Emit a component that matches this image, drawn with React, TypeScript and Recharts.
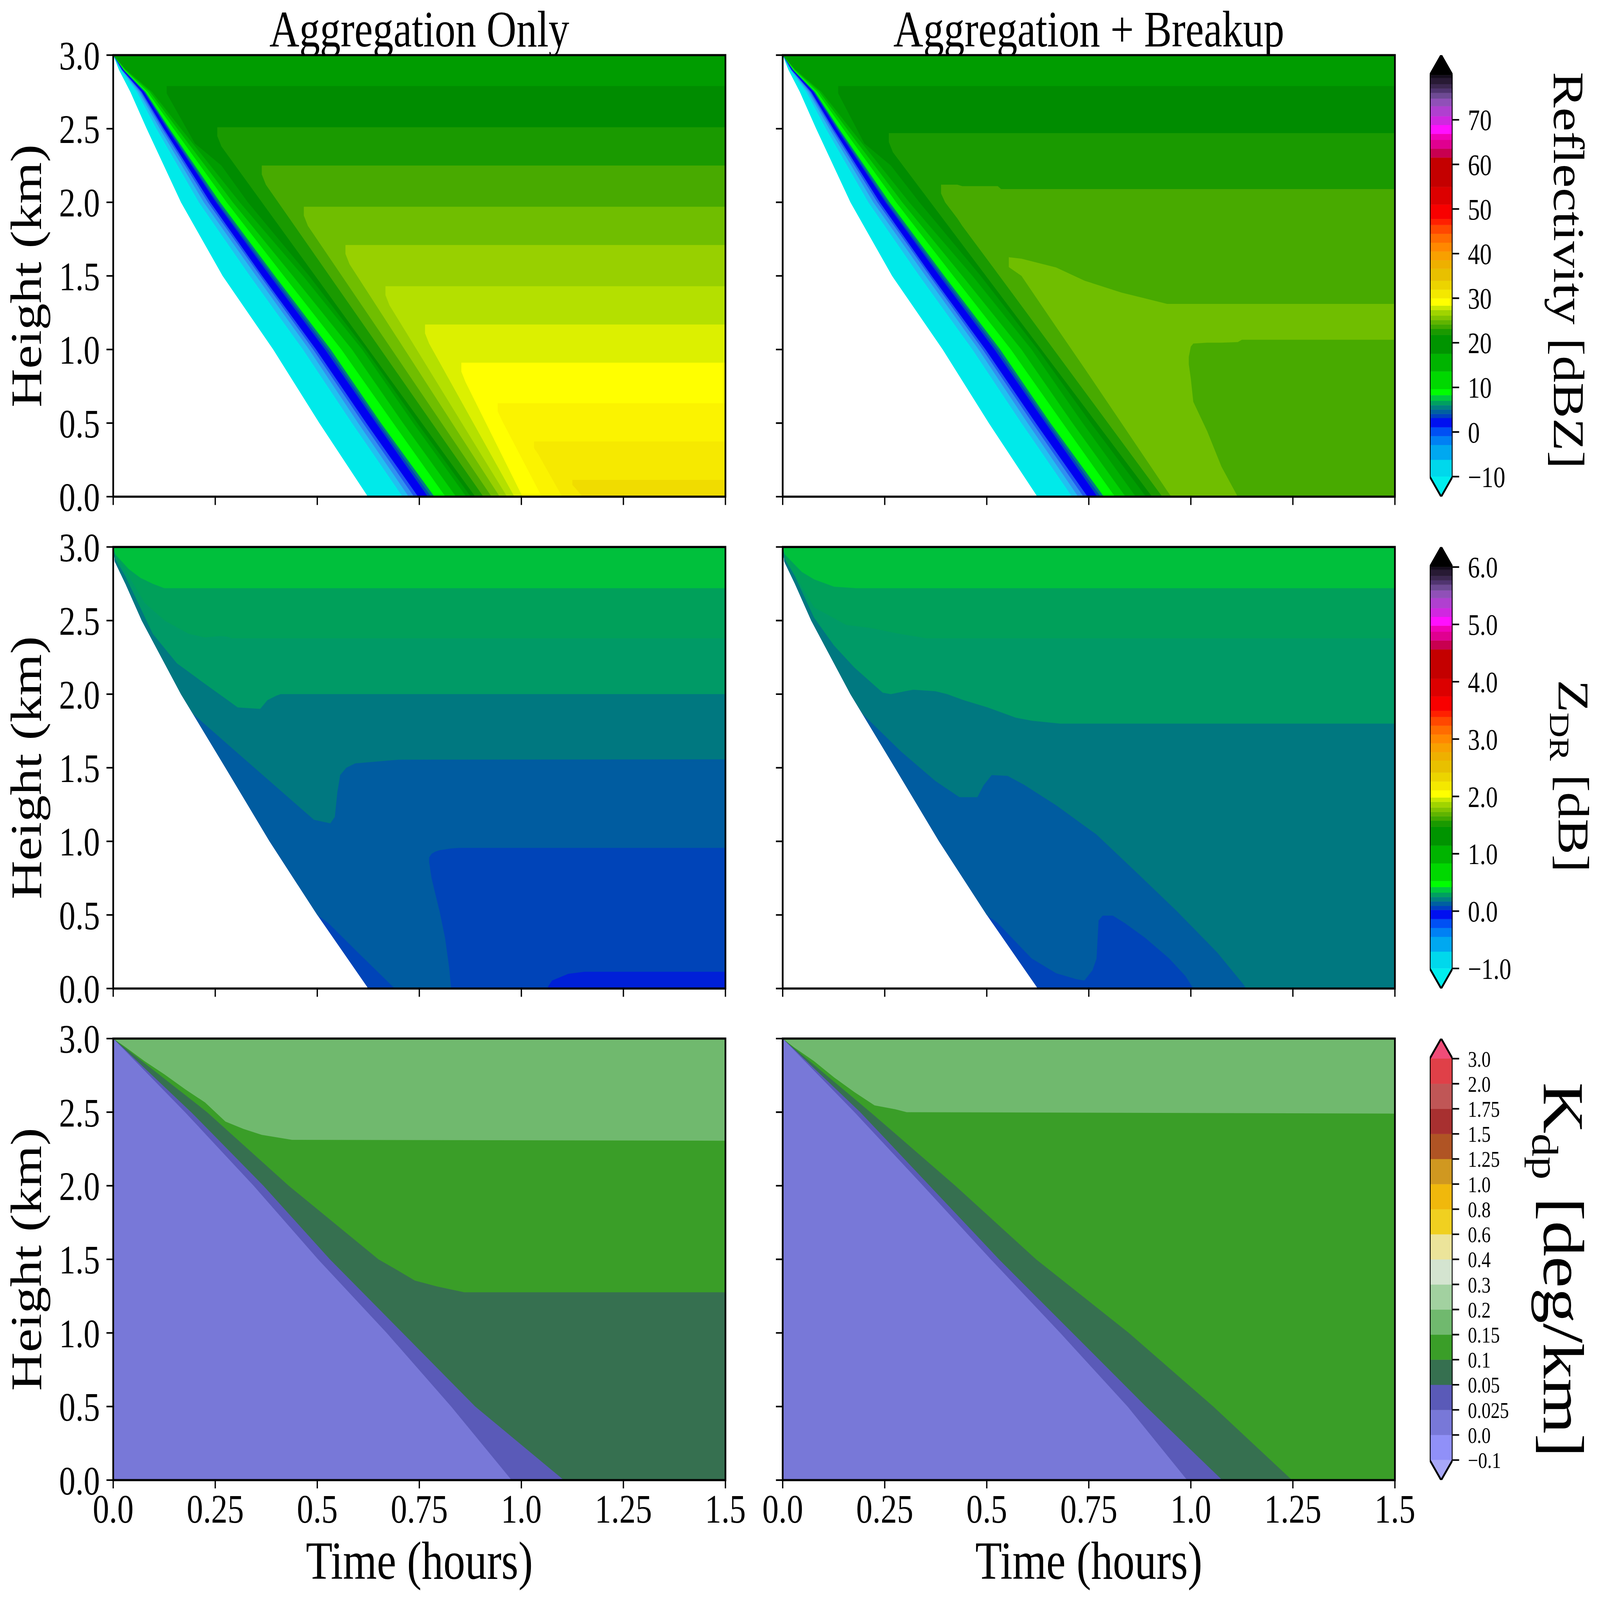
import React from 'react';
import { ComposedChart, Area, Line, XAxis, YAxis } from 'recharts';

const FONT = '"Liberation Serif", "DejaVu Serif", serif';

// ---- axes ----
const TIME_TICKS = [0, 0.25, 0.5, 0.75, 1.0, 1.25, 1.5];
const TIME_LABELS = ['0.0', '0.25', '0.5', '0.75', '1.0', '1.25', '1.5'];
const HEIGHT_TICKS = [0, 0.5, 1, 1.5, 2, 2.5, 3];

// ---- reflectivity (dBZ) ----
// heights (km) at which the contours along the falling front were read
const FRONT_HEIGHTS = [3, 2.9, 2.75, 2.5, 2.0, 1.5, 1.0, 0.5, 0, 0];
// time (h) of each front-side contour at FRONT_HEIGHTS, region above it is >= level
const Z_FRONT_TIMES: [number, number[]][] = [
  [-10, [0, 0.014, 0.042, 0.082, 0.166, 0.268, 0.392, 0.505, 0.624, 1.5]],
  [-7, [0, 0.019, 0.058, 0.106, 0.21, 0.335, 0.465, 0.585, 0.709, 1.5]],
  [-5, [0, 0.02, 0.063, 0.114, 0.222, 0.35, 0.48, 0.6, 0.724, 1.5]],
  [-3, [0, 0.021, 0.067, 0.12, 0.232, 0.36, 0.49, 0.612, 0.737, 1.5]],
  [0, [0, 0.022, 0.07, 0.124, 0.238, 0.365, 0.497, 0.62, 0.747, 1.5]],
  [4, [0, 0.024, 0.075, 0.132, 0.252, 0.384, 0.519, 0.644, 0.771, 1.5]],
  [6, [0, 0.025, 0.077, 0.135, 0.256, 0.39, 0.526, 0.65, 0.779, 1.5]],
  [10, [0, 0.026, 0.079, 0.138, 0.262, 0.396, 0.533, 0.656, 0.787, 1.5]],
  [14, [0, 0.028, 0.084, 0.148, 0.278, 0.418, 0.559, 0.686, 0.814, 1.5]],
  [16, [0, 0.03, 0.09, 0.157, 0.293, 0.44, 0.585, 0.71, 0.84, 1.5]],
  [19, [0, 0.032, 0.095, 0.166, 0.31, 0.465, 0.61, 0.735, 0.865, 1.5]],
];

type Row = [number, number, number]; // [time h, lower km, upper km]
type Region = [number, Row[]]; // [level, outline rows]

const Z_AGG_REGIONS: Region[] = [
  [20, [[0.131, 2.74, 2.79], [0.2, 2.4, 2.79], [0.265, 2.25, 2.79], [0.33, 2.0, 2.79], [0.48, 1.5, 2.79], [0.618, 1.0, 2.79], [0.745, 0.5, 2.79], [0.876, 0, 2.79], [1.5, 0, 2.79]]],
  [22, [[0.255, 2.45, 2.51], [0.265, 2.38, 2.51], [0.887, 0, 2.51], [1.5, 0, 2.51]]],
  [23, [[0.364, 2.19, 2.25], [0.374, 2.12, 2.25], [0.907, 0, 2.25], [1.5, 0, 2.25]]],
  [24, [[0.467, 1.91, 1.97], [0.477, 1.84, 1.97], [0.927, 0, 1.97], [1.5, 0, 1.97]]],
  [26, [[0.569, 1.65, 1.71], [0.579, 1.58, 1.71], [0.947, 0, 1.71], [1.5, 0, 1.71]]],
  [27, [[0.667, 1.37, 1.43], [0.677, 1.3, 1.43], [0.965, 0, 1.43], [1.5, 0, 1.43]]],
  [28, [[0.764, 1.11, 1.17], [0.774, 1.04, 1.17], [0.983, 0, 1.17], [1.5, 0, 1.17]]],
  [30, [[0.853, 0.85, 0.91], [0.863, 0.78, 0.91], [1.003, 0, 0.91], [1.5, 0, 0.91]]],
  [31, [[0.942, 0.58, 0.635], [0.952, 0.52, 0.635], [1.05, 0, 0.635], [1.5, 0, 0.635]]],
  [32, [[1.031, 0.33, 0.375], [1.041, 0.29, 0.375], [1.1, 0, 0.375], [1.5, 0, 0.375]]],
  [33, [[1.125, 0.08, 0.114], [1.135, 0.05, 0.114], [1.15, 0, 0.114], [1.5, 0, 0.114]]],
];

const Z_BRK_REGIONS: Region[] = [
  [20, [[0.136, 2.74, 2.79], [0.2, 2.4, 2.79], [0.265, 2.25, 2.79], [0.335, 2.0, 2.79], [0.485, 1.5, 2.79], [0.625, 1.0, 2.79], [0.755, 0.5, 2.79], [0.89, 0, 2.79], [1.5, 0, 2.79]]],
  [22, [[0.26, 2.41, 2.47], [0.27, 2.34, 2.47], [0.905, 0, 2.47], [1.5, 0, 2.47]]],
  [23, [[0.388, 2.06, 2.12], [0.398, 2.0, 2.12], [0.428, 1.89, 2.12], [0.44, 1.84, 2.11], [0.527, 1.515, 2.11], [0.535, 1.485, 2.09], [0.93, 0, 2.09], [1.5, 0, 2.09]]],
  [24, [[0.554, 1.56, 1.627], [0.585, 1.5, 1.617], [0.67, 1.153, 1.557], [0.74, 0.87, 1.467], [0.83, 0.5, 1.387], [0.942, 0.04, 1.31], [0.952, 0, 1.31], [1.5, 0, 1.31]]],
  [23, [[0.995, 0.9, 0.95], [1.0, 0.8, 1.02], [1.006, 0.645, 1.04], [1.04, 0.445, 1.046], [1.075, 0.204, 1.046], [1.115, 0, 1.05], [1.125, 0, 1.066], [1.5, 0, 1.066]]],
];

// ---- differential reflectivity (dB) ----
const ZDR_AGG_REGIONS: Region[] = [
  [0.1, [[0, 3, 3], [0.004, 2.9, 3], [0.03, 2.75, 3], [0.07, 2.5, 3], [0.166, 2.0, 3], [0.275, 1.5, 3], [0.383, 1.0, 3], [0.5, 0.5, 3], [0.625, 0, 3], [1.5, 0, 3]]],
  [0.2, [[0, 3, 3], [0.004, 2.9, 3], [0.03, 2.75, 3], [0.07, 2.5, 3], [0.166, 2.0, 3], [0.275, 1.5, 3], [0.383, 1.0, 3], [0.5, 0.5, 3], [0.527, 0.445, 3], [0.6, 0.244, 3], [0.69, 0, 3], [1.5, 0, 3]]],
  [0.1, [[0.774, 0.86, 0.89], [0.78, 0.75, 0.915], [0.789, 0.645, 0.93], [0.8, 0.52, 0.94], [0.813, 0.345, 0.945], [0.823, 0.144, 0.95], [0.828, 0, 0.952], [0.848, 0, 0.956], [1.5, 0, 0.956]]],
  [0.05, [[1.065, 0, 0.01], [1.075, 0, 0.054], [1.115, 0, 0.1], [1.154, 0, 0.114], [1.5, 0, 0.114]]],
  [0.3, [[0, 3, 3], [0.004, 2.9, 3], [0.03, 2.75, 3], [0.07, 2.5, 3], [0.166, 2.0, 3], [0.196, 1.865, 3], [0.302, 1.607, 3], [0.409, 1.347, 3], [0.492, 1.146, 3], [0.532, 1.122, 3], [0.543, 1.166, 3], [0.549, 1.33, 3], [0.556, 1.45, 3], [0.571, 1.5, 3], [0.593, 1.53, 3], [0.7, 1.555, 3], [1.5, 1.557, 3]]],
  [0.35, [[0, 3, 3], [0.005, 2.92, 3], [0.03, 2.8, 3], [0.097, 2.41, 3], [0.156, 2.21, 3], [0.215, 2.09, 3], [0.275, 1.97, 3], [0.305, 1.91, 3], [0.36, 1.9, 3], [0.378, 1.96, 3], [0.4, 1.99, 3], [0.41, 2.0, 3], [1.5, 2.0, 3]]],
  [0.4, [[0, 3, 3], [0.008, 2.93, 3], [0.03, 2.84, 3], [0.077, 2.62, 3], [0.126, 2.5, 3], [0.185, 2.41, 3], [0.225, 2.385, 3], [0.262, 2.395, 3], [0.28, 2.39, 3], [0.29, 2.38, 3], [1.5, 2.38, 3]]],
  [0.45, [[0, 3, 3], [0.005, 2.95, 3], [0.038, 2.85, 3], [0.067, 2.79, 3], [0.097, 2.75, 3], [0.125, 2.72, 3], [1.5, 2.72, 3]]],
];

const ZDR_BRK_REGIONS: Region[] = [
  [0.1, [[0, 3, 3], [0.004, 2.9, 3], [0.03, 2.75, 3], [0.07, 2.5, 3], [0.166, 2.0, 3], [0.275, 1.5, 3], [0.383, 1.0, 3], [0.5, 0.5, 3], [0.625, 0, 3], [1.5, 0, 3]]],
  [0.2, [[0, 3, 3], [0.004, 2.9, 3], [0.03, 2.75, 3], [0.07, 2.5, 3], [0.166, 2.0, 3], [0.275, 1.5, 3], [0.383, 1.0, 3], [0.5, 0.5, 3], [0.527, 0.445, 3], [0.61, 0.204, 3], [0.67, 0.104, 3], [0.719, 0.064, 3], [0.739, 0.054, 3], [0.759, 0.124, 3], [0.769, 0.204, 3], [0.774, 0.463, 3], [0.784, 0.495, 3], [0.809, 0.495, 3], [0.838, 0.445, 3], [0.888, 0.345, 3], [0.947, 0.204, 3], [0.987, 0.084, 3], [1.006, 0, 3], [1.5, 0, 3]]],
  [0.3, [[0, 3, 3], [0.004, 2.9, 3], [0.03, 2.75, 3], [0.07, 2.5, 3], [0.166, 2.0, 3], [0.196, 1.865, 3], [0.29, 1.61, 3], [0.374, 1.41, 3], [0.433, 1.3, 3], [0.477, 1.3, 3], [0.492, 1.38, 3], [0.512, 1.45, 3], [0.551, 1.445, 3], [0.591, 1.385, 3], [0.67, 1.245, 3], [0.769, 1.046, 3], [0.868, 0.786, 3], [0.966, 0.525, 3], [1.065, 0.244, 3], [1.13, 0.024, 3], [1.135, 0, 3], [1.5, 0, 3]]],
  [0.35, [[0, 3, 3], [0.005, 2.92, 3], [0.03, 2.8, 3], [0.077, 2.52, 3], [0.126, 2.33, 3], [0.176, 2.18, 3], [0.245, 2.01, 3], [0.265, 2.0, 3], [0.3, 2.02, 3], [0.32, 2.03, 3], [0.374, 2.02, 3], [0.403, 2.0, 3], [0.443, 1.96, 3], [0.502, 1.91, 3], [0.571, 1.84, 3], [0.61, 1.82, 3], [0.68, 1.8, 3], [1.5, 1.8, 3]]],
  [0.4, [[0, 3, 3], [0.01, 2.9, 3], [0.077, 2.59, 3], [0.156, 2.47, 3], [0.215, 2.45, 3], [0.285, 2.41, 3], [0.33, 2.39, 3], [0.35, 2.38, 3], [1.5, 2.38, 3]]],
  [0.45, [[0, 3, 3], [0.005, 2.95, 3], [0.047, 2.83, 3], [0.077, 2.78, 3], [0.126, 2.73, 3], [0.18, 2.72, 3], [1.5, 2.72, 3]]],
];

// ---- specific differential phase (deg/km) ----
const KDP_AGG_REGIONS: Region[] = [
  [0, [[0, 0, 3], [1.5, 0, 3]]],
  [0.025, [[0, 3, 3], [0.176, 2.5, 3], [0.344, 2.0, 3], [0.502, 1.5, 3], [0.67, 1.0, 3], [0.828, 0.5, 3], [0.976, 0, 3], [1.5, 0, 3]]],
  [0.05, [[0, 3, 3], [0.191, 2.5, 3], [0.368, 2.0, 3], [0.531, 1.5, 3], [0.709, 1.0, 3], [0.887, 0.5, 3], [1.104, 0, 3], [1.5, 0, 3]]],
  [0.1, [[0, 3, 3], [0.23, 2.5, 3], [0.43, 2.0, 3], [0.65, 1.5, 3], [0.69, 1.436, 3], [0.739, 1.356, 3], [0.793, 1.316, 3], [0.833, 1.292, 3], [0.86, 1.276, 3], [1.5, 1.276, 3]]],
  [0.15, [[0, 3, 3], [0.028, 2.946, 3], [0.077, 2.846, 3], [0.126, 2.756, 3], [0.176, 2.656, 3], [0.225, 2.566, 3], [0.275, 2.436, 3], [0.319, 2.386, 3], [0.364, 2.346, 3], [0.438, 2.312, 3], [1.5, 2.306, 3]]],
];

const KDP_BRK_REGIONS: Region[] = [
  [0, [[0, 0, 3], [1.5, 0, 3]]],
  [0.025, [[0, 3, 3], [0.176, 2.5, 3], [0.344, 2.0, 3], [0.51, 1.5, 3], [0.68, 1.0, 3], [0.845, 0.5, 3], [0.991, 0, 3], [1.5, 0, 3]]],
  [0.05, [[0, 3, 3], [0.19, 2.5, 3], [0.36, 2.0, 3], [0.53, 1.5, 3], [0.71, 1.0, 3], [0.89, 0.5, 3], [1.077, 0, 3], [1.5, 0, 3]]],
  [0.1, [[0, 3, 3], [0.215, 2.5, 3], [0.423, 2.0, 3], [0.621, 1.5, 3], [0.848, 1.0, 3], [1.055, 0.5, 3], [1.248, 0, 3], [1.5, 0, 3]]],
  [0.15, [[0, 3, 3], [0.028, 2.94, 3], [0.077, 2.846, 3], [0.126, 2.736, 3], [0.176, 2.636, 3], [0.225, 2.546, 3], [0.275, 2.52, 3], [0.304, 2.5, 3], [1.5, 2.49, 3]]],
];

// ---- colour bars ----
const Z_TICKS = [-10, 0, 10, 20, 30, 40, 50, 60, 70];
const Z_RANGE = [-10, 80];
const ZDR_TICKS = [-1, 0, 1, 2, 3, 4, 5, 6];
const ZDR_RANGE = [-1, 6];
// colormap band edges as fraction of the bar (bottom -> top)
const CMAP_STOPS = [0, 0.042, 0.079, 0.101, 0.123, 0.146, 0.156, 0.167, 0.178, 0.189, 0.203, 0.218, 0.262, 0.306, 0.353, 0.368, 0.379, 0.39, 0.401, 0.415, 0.426, 0.444, 0.466, 0.488, 0.518, 0.539, 0.561, 0.583, 0.605, 0.627, 0.642, 0.678, 0.722, 0.795, 0.817, 0.839, 0.854, 0.876, 0.898, 0.923, 0.942, 0.956, 0.967, 0.978, 0.993, 1.0];
const KDP_LEVELS = ['-0.1', '0.0', '0.025', '0.05', '0.1', '0.15', '0.2', '0.3', '0.4', '0.6', '0.8', '1.0', '1.25', '1.5', '1.75', '2.0', '3.0'];

// ---- styles ----
const CMAP_COLORS = ['#00d8ec', '#00a8f0', '#0080f4', '#0050f4', '#0010f0', '#0040c0', '#0060a0', '#008080', '#00a060', '#00c840', '#00ff00', '#00d800', '#00b400', '#009400', '#1a9a00', '#40a800', '#60b400', '#80c400', '#a0d400', '#c8e800', '#ffff00', '#f4e800', '#ecd400', '#e8c000', '#eeb000', '#f8a000', '#ff8800', '#ff6c00', '#ff4800', '#ff2000', '#f80000', '#dc0000', '#c40000', '#c80050', '#e00090', '#f000b8', '#ff10ff', '#d028e0', '#b040d0', '#9050b8', '#6e4a94', '#503470', '#3c2850', '#281a34', '#140c1c'];
const KDP_COLORS = ['#9090f8', '#7878d8', '#5a5ab8', '#367050', '#3a9e28', '#70b96e', '#a2d1a0', '#d4e4d0', '#ece49a', '#f0d020', '#f0b80c', '#d09820', '#b05424', '#a83030', '#c05656', '#e04048'];

const Z_FILL: Record<string, string> = {
  '-10': '#00eaea', '-7': '#20c0f0', '-5': '#3090f0', '-3': '#2058f0', '0': '#0000f0',
  '4': '#0048b8', '6': '#008080', '10': '#00ff00', '14': '#00d000', '16': '#00b000', '19': '#009c00',
  '20': '#008c00', '22': '#1a9a00', '23': '#48aa00', '24': '#70be00', '26': '#98d000',
  '27': '#b4e000', '28': '#dcf000', '30': '#ffff00', '31': '#fbf300', '32': '#f6e900', '33': '#f0dc00',
};
const ZDR_FILL: Record<string, string> = {
  '0.05': '#0020d8', '0.1': '#0044b8', '0.2': '#005ca0', '0.3': '#007880',
  '0.35': '#009a66', '0.4': '#00a05a', '0.45': '#00c03c',
};
const KDP_FILL: Record<string, string> = {
  '0': '#7878d8', '0.025': '#5a5ab8', '0.05': '#367050', '0.1': '#3a9e28', '0.15': '#70b96e',
};

// ---- layout (px, in figure coordinates) ----
const FIG_W = 7349;
const FIG_H = 5979;
const COL_X = [520, 3595];
const ROW_Y = [206, 2044, 3881];
const PLOT_W = 2812;
const PLOT_H = 1650;
const BAR_X = 6567;
const BAR_W = 105;

const Z_FRONT_REGIONS: Region[] = Z_FRONT_TIMES.map(([lvl, ts]) => [
  lvl,
  ts.map((t, i) => [t, FRONT_HEIGHTS[i], 3] as Row),
]);

const toArea = (rows: Row[]) => rows.map(([t, lo, hi]) => ({ t, r: [lo, hi] }));

function Panel({ x, y, regions, fills, showX, showY }: {
  x: number; y: number; regions: Region[]; fills: Record<string, string>; showX: boolean; showY: boolean;
}) {
  const yw = 330;
  const pt = 110;
  const pr = 160;
  const xh = 260;
  return (
    <div style={{ position: 'absolute', left: x - yw, top: y - pt }}>
      <ComposedChart width={yw + PLOT_W + pr} height={pt + PLOT_H + xh} margin={{ top: pt, right: pr, bottom: 0, left: 0 }}>
        <XAxis
          type="number" dataKey="t" domain={[0, 1.5]} allowDataOverflow ticks={TIME_TICKS} interval={0}
          height={xh} tickSize={31} tickMargin={21} axisLine={false}
          tickLine={{ stroke: '#000', strokeWidth: 6 }}
          tick={{ fontSize: 150, fill: '#000', fontFamily: FONT }}
          tickFormatter={(v: number) => (showX ? TIME_LABELS[TIME_TICKS.indexOf(v)] : '')}
        />
        <YAxis
          type="number" domain={[0, 3]} allowDataOverflow ticks={HEIGHT_TICKS} interval={0}
          width={yw} tickSize={31} tickMargin={30} axisLine={false}
          tickLine={{ stroke: '#000', strokeWidth: 6 }}
          tick={{ fontSize: 150, fill: '#000', fontFamily: FONT }}
          tickFormatter={(v: number) => (showY ? v.toFixed(1) : '')}
        />
        {regions.map(([lvl, rows], i) => (
          <Area
            key={i} data={toArea(rows)} dataKey="r" type="linear"
            fill={fills[String(lvl)]} fillOpacity={1} stroke="none"
            dot={false} activeDot={false} isAnimationActive={false}
          />
        ))}
      </ComposedChart>
      <div style={{
        position: 'absolute', left: yw - 4, top: pt - 4, width: PLOT_W + 8, height: PLOT_H + 8,
        border: '8px solid #000', boxSizing: 'border-box', pointerEvents: 'none',
      }} />
    </div>
  );
}

type Seg = { a: number; b: number; fill: string };

function ColorBar({ y, segs, lo, hi, ext, ticks, fmt, lowFill, highFill, fontSize }: {
  y: number; segs: Seg[]; lo: number; hi: number; ext: number; ticks: number[];
  fmt: (v: number) => string; lowFill: string; highFill: string; fontSize: number;
}) {
  const pad = 80;
  const aw = 420;
  const outline = [
    { x: 0, y: lo }, { x: 0, y: hi }, { x: 0.5, y: hi + ext }, { x: 1, y: hi },
    { x: 1, y: lo }, { x: 0.5, y: lo - ext }, { x: 0, y: lo },
  ];
  return (
    <div style={{ position: 'absolute', left: BAR_X, top: y - pad }}>
      <ComposedChart width={BAR_W + aw} height={PLOT_H + 2 * pad} margin={{ top: pad, right: 0, bottom: pad, left: 0 }}>
        <XAxis type="number" dataKey="x" domain={[0, 1]} allowDataOverflow hide />
        <YAxis
          type="number" orientation="right" domain={[lo - ext, hi + ext]} allowDataOverflow
          ticks={ticks} interval={0} width={aw} tickSize={30} tickMargin={40} axisLine={false}
          tickLine={{ stroke: '#000', strokeWidth: 6 }}
          tick={{ fontSize, fill: '#000', fontFamily: FONT }}
          tickFormatter={fmt}
        />
        {segs.map((s, i) => (
          <Area
            key={i} data={[{ x: 0, r: [s.a, s.b] }, { x: 1, r: [s.a, s.b] }]} dataKey="r"
            fill={s.fill} fillOpacity={1} stroke={s.fill} strokeWidth={1}
            dot={false} activeDot={false} isAnimationActive={false}
          />
        ))}
        <Area
          data={[{ x: 0, r: [hi, hi] }, { x: 0.5, r: [hi, hi + ext] }, { x: 1, r: [hi, hi] }]} dataKey="r"
          fill={highFill} fillOpacity={1} stroke="none" dot={false} activeDot={false} isAnimationActive={false}
        />
        <Area
          data={[{ x: 0, r: [lo, lo] }, { x: 0.5, r: [lo - ext, lo] }, { x: 1, r: [lo, lo] }]} dataKey="r"
          fill={lowFill} fillOpacity={1} stroke="none" dot={false} activeDot={false} isAnimationActive={false}
        />
        <Line
          data={outline} dataKey="y" type="linear" stroke="#000" strokeWidth={8}
          dot={false} activeDot={false} isAnimationActive={false}
        />
      </ComposedChart>
    </div>
  );
}

const cmapSegs = (lo: number, hi: number): Seg[] =>
  CMAP_COLORS.map((fill, i) => ({
    a: lo + CMAP_STOPS[i] * (hi - lo),
    b: lo + CMAP_STOPS[i + 1] * (hi - lo),
    fill,
  }));

const kdpSegs: Seg[] = KDP_COLORS.map((fill, i) => ({ a: i, b: i + 1, fill }));

const minus = (s: string) => s.replace('-', '\u2212');

const txt: React.CSSProperties = {
  position: 'absolute', whiteSpace: 'nowrap', lineHeight: 1, color: '#000', fontFamily: FONT,
};

export default function App() {
  // stretch the figure onto whatever viewport the page actually gets
  const vw = typeof window !== 'undefined' ? window.innerWidth : FIG_W;
  const vh = typeof window !== 'undefined' ? window.innerHeight : FIG_H;
  const sx = Math.min(1, vw / FIG_W);
  const sy = Math.min(1, vh / FIG_H);
  const rowCenter = (r: number) => ROW_Y[r] + PLOT_H / 2;
  const colCenter = (c: number) => COL_X[c] + PLOT_W / 2;
  return (
    <div style={{
      position: 'absolute', left: 0, top: 0, width: FIG_W, height: FIG_H, background: '#fff',
      overflow: 'hidden', transform: `scale(${sx}, ${sy})`, transformOrigin: '0 0',
    }}>
      <div style={{ ...txt, fontSize: 190, left: colCenter(0) - 2000, width: 4000, textAlign: 'center', top: 14 }}>Aggregation Only</div>
      <div style={{ ...txt, fontSize: 190, left: colCenter(1) - 2000, width: 4000, textAlign: 'center', top: 14 }}>Aggregation + Breakup</div>

      <Panel x={COL_X[0]} y={ROW_Y[0]} regions={[...Z_FRONT_REGIONS, ...Z_AGG_REGIONS]} fills={Z_FILL} showX={false} showY />
      <Panel x={COL_X[1]} y={ROW_Y[0]} regions={[...Z_FRONT_REGIONS, ...Z_BRK_REGIONS]} fills={Z_FILL} showX={false} showY={false} />
      <Panel x={COL_X[0]} y={ROW_Y[1]} regions={ZDR_AGG_REGIONS} fills={ZDR_FILL} showX={false} showY />
      <Panel x={COL_X[1]} y={ROW_Y[1]} regions={ZDR_BRK_REGIONS} fills={ZDR_FILL} showX={false} showY={false} />
      <Panel x={COL_X[0]} y={ROW_Y[2]} regions={KDP_AGG_REGIONS} fills={KDP_FILL} showX showY />
      <Panel x={COL_X[1]} y={ROW_Y[2]} regions={KDP_BRK_REGIONS} fills={KDP_FILL} showX showY={false} />

      {[0, 1, 2].map((r) => (
        <div key={r} style={{ ...txt, fontSize: 200, left: 122, top: rowCenter(r), transform: 'translate(-50%, -50%) rotate(-90deg)' }}>
          Height (km)
        </div>
      ))}
      {[0, 1].map((c) => (
        <div key={c} style={{ ...txt, fontSize: 200, left: colCenter(c) - 1500, width: 3000, textAlign: 'center', top: 5733 }}>
          Time (hours)
        </div>
      ))}

      <ColorBar
        y={ROW_Y[0]} segs={cmapSegs(Z_RANGE[0], Z_RANGE[1])} lo={Z_RANGE[0]} hi={Z_RANGE[1]} ext={4.5}
        ticks={Z_TICKS} fmt={(v) => minus(String(v))} lowFill="#00eeee" highFill="#000000" fontSize={110}
      />
      <ColorBar
        y={ROW_Y[1]} segs={cmapSegs(ZDR_RANGE[0], ZDR_RANGE[1])} lo={ZDR_RANGE[0]} hi={ZDR_RANGE[1]} ext={0.35}
        ticks={ZDR_TICKS} fmt={(v) => minus(v.toFixed(1))} lowFill="#00eeee" highFill="#000000" fontSize={110}
      />
      <ColorBar
        y={ROW_Y[2]} segs={kdpSegs} lo={0} hi={16} ext={0.8}
        ticks={KDP_LEVELS.map((_, i) => i)} fmt={(v) => minus(KDP_LEVELS[v])} lowFill="#a8a8f8" highFill="#f04c78" fontSize={84}
      />

      <div style={{ ...txt, fontSize: 200, left: 7205, top: 1010, transform: 'translate(-50%, -50%) rotate(90deg)' }}>
        Reflectivity [dBZ]
      </div>
      <div style={{ ...txt, fontSize: 200, left: 7225, top: 2900, transform: 'translate(-50%, -50%) rotate(90deg)' }}>
        Z<span style={{ fontSize: '0.65em', position: 'relative', top: '0.3em' }}>DR</span> [dB]
      </div>
      <div style={{ ...txt, fontSize: 265, left: 7180, top: 4745, transform: 'translate(-50%, -50%) rotate(90deg)' }}>
        K<span style={{ fontSize: '0.65em', position: 'relative', top: '0.3em' }}>dp</span> [deg/km]
      </div>
    </div>
  );
}
